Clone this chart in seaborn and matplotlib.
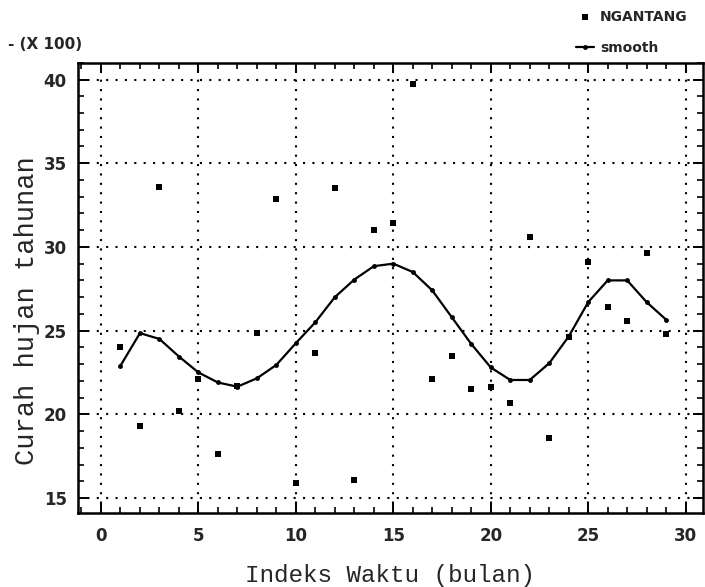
import matplotlib
matplotlib.use("Agg")
import matplotlib.pyplot as plt
import seaborn as sns
import pandas as pd
from matplotlib.ticker import MultipleLocator

# Data (values in hundreds)
bulan = list(range(1, 30))
ngantang = [24.0, 19.3, 33.6, 20.2, 22.1, 17.6, 21.7, 24.85, 32.85, 15.9,
            23.65, 33.5, 16.1, 31.0, 31.4, 39.75, 22.1, 23.5, 21.5, 21.65,
            20.7, 30.6, 18.6, 24.6, 29.1, 26.4, 25.6, 29.65, 24.8]
smooth = [22.9, 24.85, 24.5, 23.45, 22.5, 21.9, 21.65, 22.15, 22.95, 24.25,
          25.5, 27.0, 28.05, 28.85, 29.0, 28.5, 27.4, 25.8, 24.2, 22.8,
          22.05, 22.05, 23.05, 24.65, 26.7, 28.0, 28.0, 26.7, 25.65]
x_ticks = [0, 5, 10, 15, 20, 25, 30]
y_ticks = [15, 20, 25, 30, 35, 40]

df = pd.DataFrame({"bulan": bulan, "NGANTANG": ngantang, "smooth": smooth})

sns.set_theme(style="ticks")
plt.rcParams['font.family'] = ['DejaVu Sans']

fig = plt.figure(figsize=(7.05, 5.87), dpi=100)
ax = fig.add_axes([0.1106, 0.126, 0.886, 0.767])

sns.scatterplot(data=df, x="bulan", y="NGANTANG", ax=ax, marker="s", s=18,
                color="black", edgecolor="black", linewidth=0, label="NGANTANG",
                zorder=3)
sns.lineplot(data=df, x="bulan", y="smooth", ax=ax, color="black", linewidth=1.6,
             marker="o", markersize=3.5, markeredgewidth=0, label="smooth",
             zorder=4)

ax.set_xlim(-1.18, 30.87)
ax.set_ylim(14.1, 41.0)
ax.set_xticks(x_ticks)
ax.set_yticks(y_ticks)
ax.xaxis.set_minor_locator(MultipleLocator(1))
ax.yaxis.set_minor_locator(MultipleLocator(1))
ax.tick_params(which="both", direction="in", top=True, right=True, color="black")
ax.tick_params(which="major", length=7, width=1.4)
ax.tick_params(which="minor", length=4, width=1.2)
ax.tick_params(axis="x", which="major", pad=10)
ax.tick_params(axis="y", which="major", pad=8)

tick_font = dict(family=["DejaVu Sans"], weight="bold", size=12)
ax.set_xticklabels([str(t) for t in x_ticks], **tick_font)
ax.set_yticklabels([str(t) for t in y_ticks], **tick_font)

ax.grid(True, which="major", color="black", linestyle=(0, (1, 3.5)), linewidth=1.5)
for sp in ax.spines.values():
    sp.set_linewidth(1.8)
    sp.set_color("black")

ax.set_xlabel("Indeks Waktu (bulan)", family=["Liberation Mono", "DejaVu Sans Mono"],
              size=17.5, labelpad=14)
ax.set_ylabel("Curah hujan tahunan", family=["Liberation Mono", "DejaVu Sans Mono"],
              size=19.5)
ax.yaxis.set_label_coords(-0.06, 0.45)

fig.text(0.012, 0.925, "- (X 100)", family=["DejaVu Sans"],
         weight="bold", size=11, ha="left", va="center")

leg = ax.legend(loc="upper right", bbox_to_anchor=(0.985, 1.13), frameon=False,
                prop=dict(family=["DejaVu Sans"], weight="bold", size=10),
                handlelength=1.3, handletextpad=0.4, labelspacing=1.2, borderaxespad=0)

fig.savefig("out.png", dpi=100, facecolor="white")
